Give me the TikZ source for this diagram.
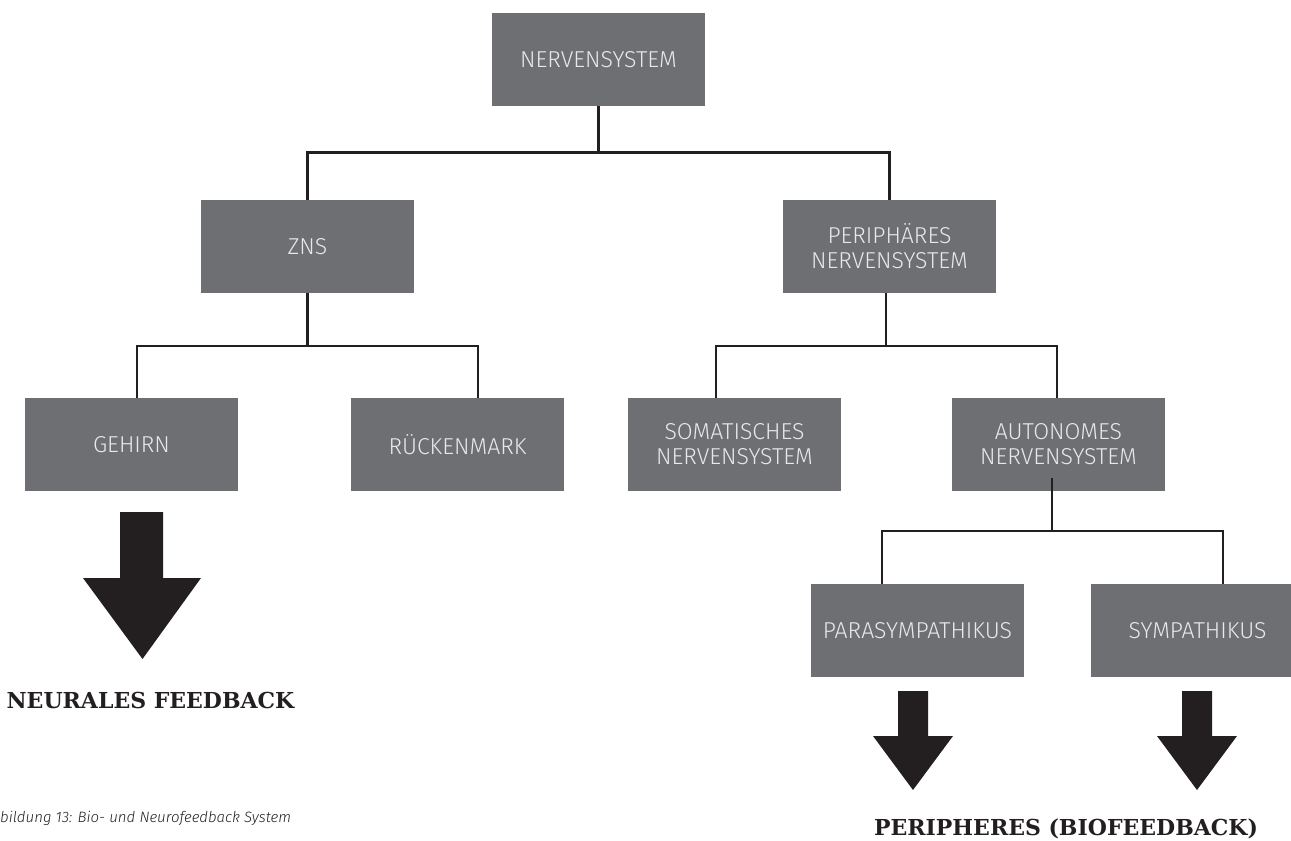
\documentclass[tikz,border=0pt]{standalone}
\usepackage{fontspec}
\usetikzlibrary{calc}
\newfontfamily\boxfont{Fira Sans}[UprightFont={* Light},ItalicFont={* Light Italic}]
\newfontfamily\slabfont{DejaVu Serif Bold}
\definecolor{boxgray}{HTML}{6E6F73}
\definecolor{boxtext}{HTML}{E8E8E8}
\definecolor{ink}{HTML}{231F20}
\tikzset{
  nbox/.style={fill=boxgray, text=boxtext, minimum width=213pt, minimum height=93pt,
    inner sep=0pt, align=center, font=\boxfont\fontsize{23}{25}\selectfont},
  conn/.style={draw=ink, line width=2.5pt, line join=miter},
  bigarrow/.style={fill=ink, draw=none},
  fblabel/.style={text=ink, inner sep=0pt, font=\slabfont\fontsize{22}{26}\selectfont},
  caplabel/.style={text=ink, inner sep=0pt, anchor=west, font=\boxfont\itshape\fontsize{15}{17}\selectfont}
}
\begin{document}
\begin{tikzpicture}[x=1pt,y=-1pt]
\useasboundingbox (0,0) rectangle (1291,841);
% boxes
\node[nbox] (nerv)   at (598.5,59.5)  {NERVENSYSTEM};
\node[nbox] (zns)    at (307.5,246.5) {ZNS};
\node[nbox] (peri)   at (889.5,246.5) {PERIPHÄRES\\NERVENSYSTEM};
\node[nbox] (gehirn) at (131.5,444.5) {GEHIRN};
\node[nbox] (rueck)  at (457.5,444.5) {RÜCKENMARK};
\node[nbox] (soma)   at (734.5,444.5) {SOMATISCHES\\NERVENSYSTEM};
\node[nbox] (auto)   at (1058.5,444.5) {AUTONOMES\\NERVENSYSTEM};
\node[nbox] (para)   at (917.5,630.5) {PARASYMPATHIKUS};
\node[nbox] (symp)   at (1197.5,630.5) {SYMPATHIKUS};
% connector end points on box tops
\coordinate (gIn) at ($(gehirn.north)+(5.5,0)$);
\coordinate (rIn) at ($(rueck.north)+(20.5,0)$);
\coordinate (sIn) at ($(soma.north)+(-18.5,0)$);
\coordinate (aIn) at ($(auto.north)+(-1.5,0)$);
\coordinate (pIn) at ($(para.north)+(-35.5,0)$);
\coordinate (yIn) at ($(symp.north)+(25.5,0)$);
\coordinate (zOut) at (zns.south);
\coordinate (pOut) at ($(peri.south)+(-3.5,0)$);
\coordinate (aOut) at ($(auto.south)+(-6.5,-13)$);
% connectors
\draw[conn] (nerv.south) -- (nerv.south |- 0,152.5);
\draw[conn] (zns.north) -- (zns.north |- 0,152.5) -- (peri.north |- 0,152.5) -- (peri.north);
\draw[conn] (zOut) -- (zOut |- 0,346);
\draw[conn] (gIn) -- (gIn |- 0,346) -- (rIn |- 0,346) -- (rIn);
\draw[conn] (pOut) -- (pOut |- 0,346);
\draw[conn] (sIn) -- (sIn |- 0,346) -- (aIn |- 0,346) -- (aIn);
\draw[conn] (aOut) -- (aOut |- 0,531);
\draw[conn] (pIn) -- (pIn |- 0,531) -- (yIn |- 0,531) -- (yIn);
% big arrows
\fill[bigarrow] (120,512) -- (163,512) -- (163,578) -- (201,578) -- (142.5,659) -- (83,578) -- (120,578) -- cycle;
\fill[bigarrow] (898,691) -- (928,691) -- (928,736) -- (953,736) -- (913,790) -- (873,736) -- (898,736) -- cycle;
\fill[bigarrow] (1182,691) -- (1212,691) -- (1212,736) -- (1237,736) -- (1197,790) -- (1157,736) -- (1182,736) -- cycle;
% labels
\node[fblabel] (neural) at (150.5,700) {NEURALES FEEDBACK};
\node[fblabel] (periph) at (1066,829) {PERIPHERES (BIOFEEDBACK)};
\node[caplabel] (caption) at (0,818) {bildung 13: Bio- und Neurofeedback System};
\end{tikzpicture}
\end{document}
